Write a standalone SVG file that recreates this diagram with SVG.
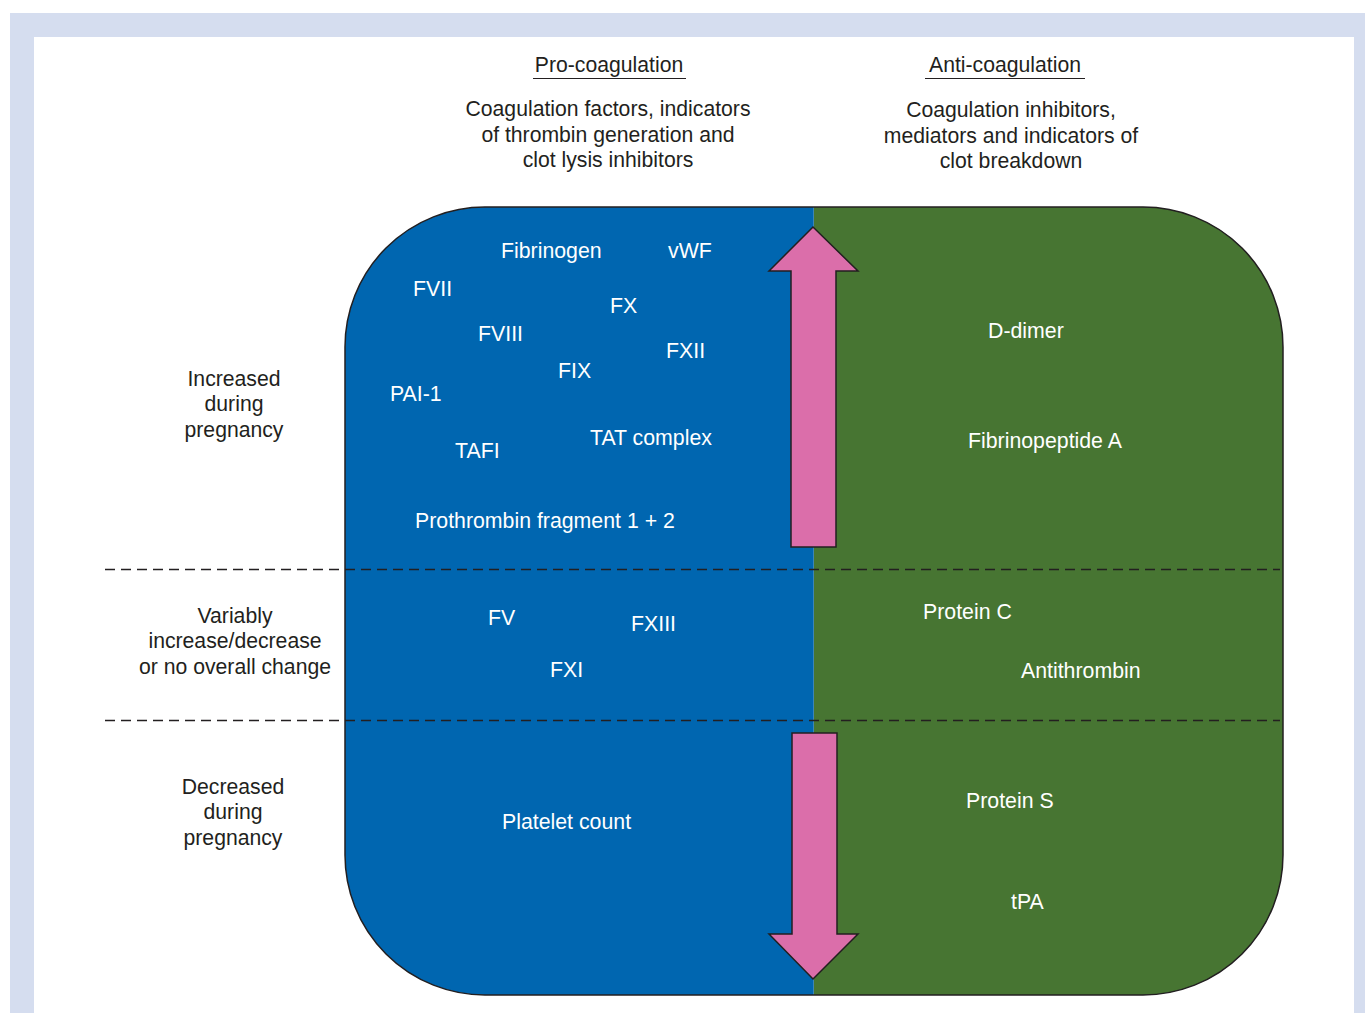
<svg xmlns="http://www.w3.org/2000/svg" width="1365" height="1013" viewBox="0 0 1365 1013">
<style>
.lbl{font-family:"Liberation Sans",Arial,sans-serif;font-size:21.2px;fill:#231F20}
.in{font-family:"Liberation Sans",Arial,sans-serif;font-size:21.3px;fill:#FFFFFF}
.c{text-anchor:middle}
.dash{stroke:#231F20;stroke-width:1.3;stroke-dasharray:10 6;fill:none}
.arrow{fill:#DB6EAA;stroke:#231F20;stroke-width:1.5;stroke-linejoin:miter}
</style>
<defs>
<clipPath id="rr"><rect x="345" y="207" width="938" height="788" rx="140" ry="140"/></clipPath>
</defs>
<rect x="0" y="0" width="1365" height="1013" fill="#FFFFFF"/>
<rect x="10" y="13" width="1365" height="1010" fill="#D5DDEF"/>
<rect x="34" y="37" width="1320" height="990" fill="#FFFFFF"/>

<g id="panel">
<rect x="345" y="207" width="938" height="788" rx="140" ry="140" fill="#0066B0"/>
<rect x="813" y="200" width="480" height="800" fill="#477532" clip-path="url(#rr)"/>
<line x1="813.5" y1="207" x2="813.5" y2="995" stroke="#3C86B8" stroke-width="1"/>
<rect x="345" y="207" width="938" height="788" rx="140" ry="140" fill="none" stroke="#231F20" stroke-width="1.5"/>
</g>

<g id="connectors">
<line class="dash" x1="105" y1="569.5" x2="1280" y2="569.5"/>
<line class="dash" x1="105" y1="720.5" x2="1280" y2="720.5"/>
<path id="arrow-up" class="arrow" d="M813,227 L858,271 L836,271 L836,547 L791,547 L791,271 L769,271 Z"/>
<path id="arrow-down" class="arrow" d="M813,979 L858,934 L837,934 L837,733 L792,733 L792,934 L769,934 Z"/>
</g>

<g id="header-pro">
<text class="lbl c" x="609" y="72">Pro-coagulation</text>
<line x1="533" y1="78.5" x2="686" y2="78.5" stroke="#231F20" stroke-width="1.2"/>
<text class="lbl c" x="608" y="116">Coagulation factors, indicators</text>
<text class="lbl c" x="608" y="142">of thrombin generation and</text>
<text class="lbl c" x="608" y="167">clot lysis inhibitors</text>
</g>
<g id="header-anti">
<text class="lbl c" x="1005" y="72">Anti-coagulation</text>
<line x1="925" y1="78.5" x2="1085" y2="78.5" stroke="#231F20" stroke-width="1.2"/>
<text class="lbl c" x="1011" y="117">Coagulation inhibitors,</text>
<text class="lbl c" x="1011" y="143">mediators and indicators of</text>
<text class="lbl c" x="1011" y="168">clot breakdown</text>
</g>

<g id="row-increased">
<text class="lbl c" x="234" y="386">Increased</text>
<text class="lbl c" x="234" y="411">during</text>
<text class="lbl c" x="234" y="437">pregnancy</text>
</g>
<g id="row-variable">
<text class="lbl c" x="235" y="623">Variably</text>
<text class="lbl c" x="235" y="648">increase/decrease</text>
<text class="lbl c" x="235" y="674">or no overall change</text>
</g>
<g id="row-decreased">
<text class="lbl c" x="233" y="794">Decreased</text>
<text class="lbl c" x="233" y="819">during</text>
<text class="lbl c" x="233" y="845">pregnancy</text>
</g>

<g id="pro-increased">
<text class="in" x="501" y="258">Fibrinogen</text>
<text class="in" x="668" y="258">vWF</text>
<text class="in" x="413" y="296">FVII</text>
<text class="in" x="610" y="313">FX</text>
<text class="in" x="478" y="341">FVIII</text>
<text class="in" x="666" y="358">FXII</text>
<text class="in" x="558" y="378">FIX</text>
<text class="in" x="390" y="401">PAI-1</text>
<text class="in" x="590" y="445">TAT complex</text>
<text class="in" x="455" y="458">TAFI</text>
<text class="in" x="415" y="528">Prothrombin fragment 1 + 2</text>
</g>
<g id="anti-increased">
<text class="in" x="988" y="338">D-dimer</text>
<text class="in" x="968" y="448">Fibrinopeptide A</text>
</g>
<g id="pro-variable">
<text class="in" x="488" y="625">FV</text>
<text class="in" x="631" y="631">FXIII</text>
<text class="in" x="550" y="677">FXI</text>
</g>
<g id="anti-variable">
<text class="in" x="923" y="619">Protein C</text>
<text class="in" x="1021" y="678">Antithrombin</text>
</g>
<g id="pro-decreased">
<text class="in" x="502" y="829">Platelet count</text>
</g>
<g id="anti-decreased">
<text class="in" x="966" y="808">Protein S</text>
<text class="in" x="1011" y="909">tPA</text>
</g>
</svg>
